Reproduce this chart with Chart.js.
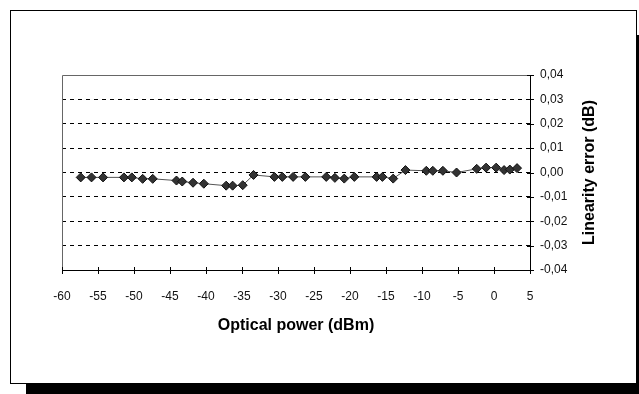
<!DOCTYPE html>
<html>
<head>
<meta charset="utf-8">
<script src="https://cdn.jsdelivr.net/npm/chart.js@4"></script>
<style>
  body { margin: 0; background: #fff; }
  #frame { position: absolute; left: 10px; top: 10px; width: 625px; height: 372px; border: 1px solid #000; background: #fff; }
  #shadowB { position: absolute; left: 26px; top: 384px; width: 613px; height: 10px; background: #000; }
  #shadowR { position: absolute; left: 637px; top: 35px; width: 2px; height: 359px; background: #000; }
  #chart { position: absolute; left: 0; top: 0; }
</style>
</head>
<body>
<div id="frame"></div>
<div id="shadowB"></div>
<div id="shadowR"></div>
<canvas id="chart" width="639" height="394"></canvas>
<script>
// optical power (dBm) and measured linearity error (dB)
const powerDbm = [-57.4, -55.9, -54.3, -51.4, -50.3, -48.8, -47.4, -44.1, -43.3, -41.8,
  -40.3, -37.2, -36.3, -34.9, -33.4, -30.5, -29.4, -27.9, -26.2, -23.3,
  -22.1, -20.8, -19.4, -16.3, -15.5, -14.0, -12.3, -9.4, -8.5, -7.1,
  -5.2, -2.4, -1.1, 0.3, 1.4, 2.2, 3.2];
const linearityErr = [-0.002, -0.002, -0.002, -0.002, -0.002, -0.0026, -0.0026, -0.0033, -0.0037, -0.0042,
  -0.0046, -0.0054, -0.0054, -0.0052, -0.001, -0.0018, -0.0018, -0.0018, -0.0018, -0.0018,
  -0.0022, -0.0025, -0.0018, -0.0018, -0.0018, -0.0025, 0.001, 0.0007, 0.0007, 0.0007,
  0.0, 0.0015, 0.002, 0.002, 0.001, 0.0012, 0.0018];

const xRange = [-60, 5];
const yRange = [-0.04, 0.04];
const xTitle = 'Optical power (dBm)';
const yTitle = 'Linearity error (dB)';

const points = powerDbm.map((x, i) => ({ x, y: linearityErr[i] }));
const fontFamily = '"Liberation Sans", Arial, sans-serif';

function fmtComma(v) {
  if (Math.abs(v) < 1e-9) v = 0;
  return v.toFixed(2).replace('.', ',');
}

// plot frame, crossing tick marks and the rotated right-hand title
const framePlugin = {
  id: 'framePlugin',
  beforeDatasetsDraw(chart) {
    const { ctx, chartArea: a, scales } = chart;
    ctx.save();
    ctx.strokeStyle = '#666';
    ctx.lineWidth = 1;
    ctx.beginPath();
    ctx.moveTo(a.left + 0.5, a.bottom);
    ctx.lineTo(a.left + 0.5, a.top + 0.5);
    ctx.lineTo(a.right, a.top + 0.5);
    ctx.stroke();

    ctx.strokeStyle = '#000';
    ctx.beginPath();
    ctx.moveTo(a.left, a.bottom + 0.5);
    ctx.lineTo(a.right + 0.5, a.bottom + 0.5);
    ctx.moveTo(a.right + 0.5, a.bottom + 0.5);
    ctx.lineTo(a.right + 0.5, a.top);
    ctx.stroke();

    ctx.beginPath();
    scales.x.ticks.forEach(t => {
      const px = Math.round(scales.x.getPixelForValue(t.value)) + 0.5;
      ctx.moveTo(px, a.bottom - 3);
      ctx.lineTo(px, a.bottom + 4);
    });
    scales.y.ticks.forEach(t => {
      const py = Math.round(scales.y.getPixelForValue(t.value)) + 0.5;
      ctx.moveTo(a.right - 3, py);
      ctx.lineTo(a.right + 4, py);
    });
    ctx.stroke();
    ctx.restore();
  },
  afterDraw(chart) {
    const { ctx, chartArea: a } = chart;
    ctx.save();
    ctx.font = 'bold 16px ' + fontFamily;
    ctx.fillStyle = '#000';
    ctx.textAlign = 'center';
    ctx.textBaseline = 'middle';
    ctx.fillText(xTitle, (a.left + a.right) / 2, 326);
    ctx.translate(590, (a.top + a.bottom) / 2);
    ctx.rotate(-Math.PI / 2);
    ctx.fillText(yTitle, 0, 0);
    ctx.restore();
  }
};

new Chart(document.getElementById('chart'), {
  type: 'scatter',
  data: {
    datasets: [{
      label: yTitle,
      data: points,
      showLine: true,
      borderColor: '#555',
      borderWidth: 1,
      pointStyle: 'rectRot',
      pointRadius: 4.5,
      pointBackgroundColor: '#333',
      pointBorderColor: '#111',
      pointBorderWidth: 1,
    }],
  },
  options: {
    responsive: false,
    animation: false,
    layout: { padding: { left: 62, top: 75, right: 0, bottom: 0 } },
    plugins: {
      legend: { display: false },
      tooltip: { enabled: false },
    },
    scales: {
      x: {
        type: 'linear',
        min: xRange[0],
        max: xRange[1],
        afterFit(scale) { scale.height = 124; },
        grid: { display: false, drawTicks: false },
        border: { display: false },
        ticks: {
          stepSize: 5,
          padding: 19,
          color: '#111',
          font: { family: fontFamily, size: 12 },
          maxRotation: 0,
        },
      },
      y: {
        position: 'right',
        min: yRange[0],
        max: yRange[1],
        afterFit(scale) { scale.width = 109; },
        grid: {
          drawTicks: false,
          color: ctx => (Math.abs(Math.abs(ctx.tick.value) - 0.04) < 1e-9 ? 'rgba(0,0,0,0)' : '#000'),
          lineWidth: 1,
          borderDash: [4, 4],
        },
        border: { display: false, dash: [4, 4] },
        ticks: {
          stepSize: 0.01,
          padding: 10,
          color: '#111',
          font: { family: fontFamily, size: 12 },
          callback: v => fmtComma(v),
        },
      },
    },
  },
  plugins: [framePlugin],
});
</script>
</body>
</html>
